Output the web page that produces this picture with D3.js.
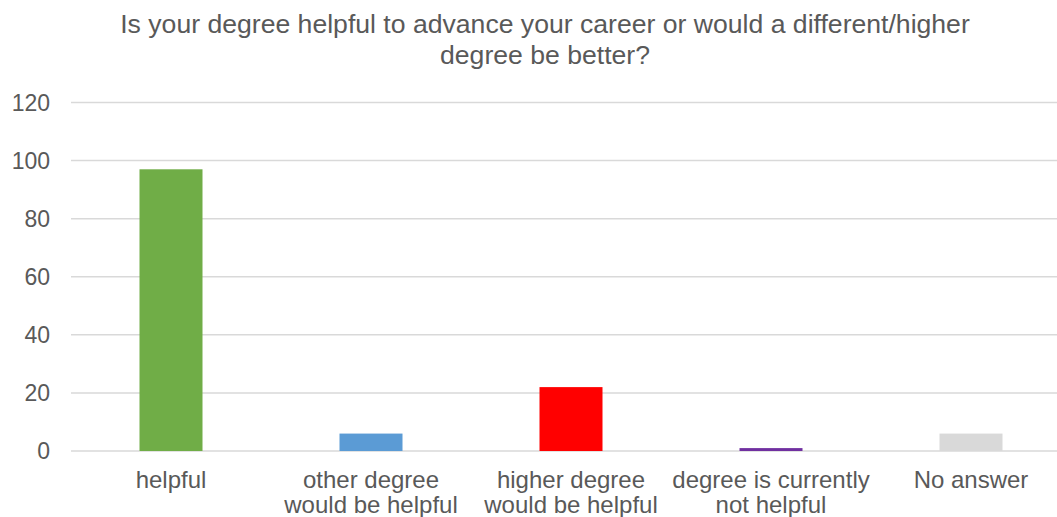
<!DOCTYPE html>
<html>
<head>
  <meta charset="utf-8">
  <title>Degree helpful</title>
  <script src="https://d3js.org/d3.v7.min.js"></script>
  <style>
    body { margin: 0; background: #fff; }
    text { font-family: "Liberation Sans", Arial, sans-serif; fill: #595959; }
  </style>
</head>
<body>
  <svg id="chart"></svg>

  <script>
    const categories = ["helpful", "other degree would be helpful", "higher degree would be helpful", "degree is currently not helpful", "No answer"];
    const counts = [97, 6, 22, 1, 6];
    const barColors = ["#70ad47", "#5b9bd5", "#ff0000", "#7030a0", "#d9d9d9"];
    const yTicks = [0, 20, 40, 60, 80, 100, 120];
    const titleLines = ["Is your degree helpful to advance your career or would a different/higher", "degree be better?"];

    const width = 1057;
    const height = 517;
    const margin = { left: 71, right: -14, top: 102.5, bottom: 66 };

    const svg = d3.select("#chart")
      .attr("width", width)
      .attr("height", height);

    const data = categories.map((c, i) => ({ name: c, value: counts[i], color: barColors[i] }));

    const x = d3.scaleBand()
      .domain(categories)
      .range([margin.left, width - margin.right])
      .paddingInner(0.685)
      .paddingOuter(0.3425);

    const y = d3.scaleLinear()
      .domain([0, 120])
      .range([height - margin.bottom, margin.top]);

    // title
    svg.append("text")
      .attr("x", 545)
      .attr("y", 33)
      .attr("text-anchor", "middle")
      .attr("font-size", "26.6px")
      .selectAll("tspan")
      .data(titleLines)
      .enter().append("tspan")
      .attr("x", 545)
      .attr("dy", (d, i) => i === 0 ? 0 : 31)
      .text(d => d);

    // gridlines
    svg.append("g")
      .selectAll("line")
      .data(yTicks)
      .enter().append("line")
      .attr("x1", margin.left)
      .attr("x2", width)
      .attr("y1", d => y(d))
      .attr("y2", d => y(d))
      .attr("stroke", "#d9d9d9")
      .attr("stroke-width", 1.5);

    // y axis labels
    svg.append("g")
      .selectAll("text")
      .data(yTicks)
      .enter().append("text")
      .attr("x", 50)
      .attr("y", d => y(d))
      .attr("dy", "0.36em")
      .attr("text-anchor", "end")
      .attr("font-size", "23px")
      .text(d => d);

    // bars
    svg.append("g")
      .selectAll("rect")
      .data(data)
      .enter().append("rect")
      .attr("x", d => x(d.name))
      .attr("width", x.bandwidth())
      .attr("y", d => y(d.value))
      .attr("height", d => y(0) - y(d.value))
      .attr("fill", d => d.color);

    // category labels, wrapped to the band
    const labels = svg.append("g")
      .selectAll("text")
      .data(data)
      .enter().append("text")
      .attr("text-anchor", "middle")
      .attr("font-size", "24px")
      .attr("y", 488);

    labels.each(function(d) {
      const t = d3.select(this);
      const cx = x(d.name) + x.bandwidth() / 2;
      const words = d.name.split(" ");
      let lines = [];
      let line = [];
      let tspan = t.append("tspan").attr("x", cx);
      words.forEach(w => {
        line.push(w);
        tspan.text(line.join(" "));
        if (tspan.node().getComputedTextLength() > 200 && line.length > 1) {
          line.pop();
          lines.push(line.join(" "));
          line = [w];
        }
      });
      lines.push(line.join(" "));
      tspan.remove();
      lines.forEach((l, i) => {
        t.append("tspan")
          .attr("x", cx)
          .attr("dy", i === 0 ? 0 : 25)
          .text(l);
      });
    });
  </script>
</body>
</html>
